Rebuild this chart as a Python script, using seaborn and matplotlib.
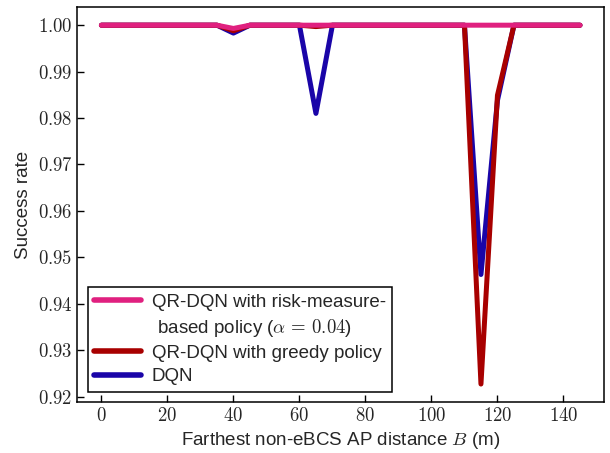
import numpy as np
import pandas as pd
import matplotlib
matplotlib.use("Agg")
import matplotlib.pyplot as plt
from matplotlib.lines import Line2D
import seaborn as sns
from matplotlib.ticker import FuncFormatter, MultipleLocator

# ---- data ----
distance = [0, 5, 10, 15, 20, 25, 30, 35, 40, 45, 50, 55, 60, 65, 70, 75, 80, 85,
            90, 95, 100, 105, 110, 115, 120, 125, 130, 135, 140, 145]
dqn = [1.0, 1.0, 1.0, 1.0, 1.0, 1.0, 1.0, 1.0, 0.9983, 1.0, 1.0, 1.0, 1.0, 0.981, 1.0, 1.0, 1.0, 1.0,
       1.0, 1.0, 1.0, 1.0, 1.0, 0.9463, 0.9838, 1.0, 1.0, 1.0, 1.0, 1.0]
qr_greedy = [1.0, 1.0, 1.0, 1.0, 1.0, 1.0, 1.0, 1.0, 0.9988, 1.0, 1.0, 1.0, 1.0, 0.9997, 1.0, 1.0, 1.0, 1.0,
             1.0, 1.0, 1.0, 1.0, 1.0, 0.9227, 0.9849, 1.0, 1.0, 1.0, 1.0, 1.0]
qr_risk = [1.0, 1.0, 1.0, 1.0, 1.0, 1.0, 1.0, 1.0, 0.9993, 1.0, 1.0, 1.0, 1.0, 1.0, 1.0, 1.0, 1.0, 1.0,
           1.0, 1.0, 1.0, 1.0, 1.0, 1.0, 1.0, 1.0, 1.0, 1.0, 1.0, 1.0]

series_names = ["DQN", "QR-DQN with greedy policy", "QR-DQN with risk-measure-"]
risk_second_line = " based policy ($\\alpha\\,=\\,0.04$)"
colors = ["#1A05A8", "#A80000", "#E0207F"]

df = pd.concat([
    pd.DataFrame({"B": distance, "rate": vals, "method": name})
    for name, vals in zip(series_names, [dqn, qr_greedy, qr_risk])
], ignore_index=True)

# ---- style ----
sns.set_style("ticks")
plt.rcParams["font.family"] = ["Liberation Sans", "DejaVu Sans"]
plt.rcParams["mathtext.fontset"] = "cm"

fig, ax = plt.subplots(figsize=(6.1, 4.53), dpi=100)
fig.subplots_adjust(left=0.127, right=0.990, top=0.984, bottom=0.1126)

sns.lineplot(data=df, x="B", y="rate", hue="method", hue_order=series_names,
             palette=colors, linewidth=3.6, ax=ax, legend=True, sort=False)

ax.xaxis.set_major_locator(MultipleLocator(20))
ax.yaxis.set_major_locator(MultipleLocator(0.01))
ax.xaxis.set_major_formatter(FuncFormatter(lambda v, p: f"${v:.0f}$"))
ax.yaxis.set_major_formatter(FuncFormatter(lambda v, p: f"${v:.2f}$"))
ax.tick_params(direction="in", length=5, width=1, labelsize=13.5, color="black")
for s in ax.spines.values():
    s.set_linewidth(1.1)
    s.set_color("black")

ax.set_xlabel("Farthest non-eBCS AP distance $B$ (m)", fontsize=13.5)
ax.set_ylabel("Success rate", fontsize=13.5)

handles, labels = ax.get_legend_handles_labels()
hmap = dict(zip(labels, handles))
blank = Line2D([], [], color="none")
leg_handles = [hmap[series_names[2]], blank, hmap[series_names[1]], hmap[series_names[0]]]
leg_labels = [series_names[2], risk_second_line, series_names[1], series_names[0]]
leg = ax.legend(leg_handles, leg_labels, loc="lower left", fontsize=13.5,
                frameon=True, fancybox=False, edgecolor="black", framealpha=1,
                handlelength=2.5, handletextpad=0.55, borderaxespad=0.55,
                labelspacing=0.32, borderpad=0.35)
leg.get_frame().set_linewidth(1.1)
for line in leg.get_lines():
    line.set_linewidth(4.0)

fig.savefig("out.png", dpi=100)
